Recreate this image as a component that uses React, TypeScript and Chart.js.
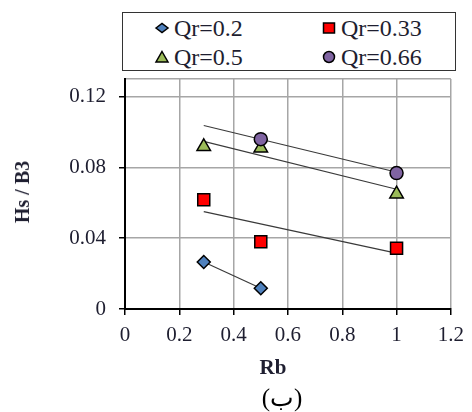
import React, { useEffect, useRef } from 'react';
import { Chart, registerables } from 'chart.js';
Chart.register(...registerables);

// ---- data ----
const seriesNames = ['Qr=0.2', 'Qr=0.33', 'Qr=0.5', 'Qr=0.66'];
const rbQ02 = [0.29, 0.5];
const hsQ02 = [0.0266, 0.0117];
const rbQ033 = [0.29, 0.5, 1.0];
const hsQ033 = [0.0617, 0.038, 0.0344];
const rbQ05 = [0.29, 0.5, 1.0];
const hsQ05 = [0.0918, 0.091, 0.065];
const rbQ066 = [0.5, 1.0];
const hsQ066 = [0.096, 0.0768];

// trend lines (end points as drawn)
const trendRbQ02 = [0.29, 0.5];
const trendHsQ02 = [0.0266, 0.0117];
const trendRbQ033 = [0.29, 0.99];
const trendHsQ033 = [0.055, 0.0319];
const trendRbQ05 = [0.29, 1.0];
const trendHsQ05 = [0.0947, 0.0677];
const trendRbQ066 = [0.29, 0.99];
const trendHsQ066 = [0.1037, 0.0777];

const xTickValues = [0, 0.2, 0.4, 0.6, 0.8, 1, 1.2];
const xTickLabels = ['0', '0.2', '0.4', '0.6', '0.8', '1', '1.2'];
const yTickValues = [0, 0.04, 0.08, 0.12];
const yTickLabels = ['0', '0.04', '0.08', '0.12'];
const xMin = 0;
const xMax = 1.2;
const yMin = 0;
const yMax = 0.13;

const xTitle = 'Rb';
const yTitle = 'Hs / B3';
const caption = '(ب)';

const colors = ['#4f81bd', '#ff0000', '#9bbb59', '#8064a2'];
const styles = ['rectRot', 'rect', 'triangle', 'circle'];
const radii = [6.5, 8.5, 7.8, 6.5];

const pts = (xs: number[], ys: number[]) => xs.map((x, i) => ({ x, y: ys[i] }));

const SERIF = '"Liberation Serif", "Times New Roman", serif';

function LegendMarker({ kind, color }: { kind: string; color: string }) {
  const s = 16;
  let shape: any = null;
  if (kind === 'rectRot') shape = <polygon points="2,8 8,3.5 14,8 8,12.5" />;
  else if (kind === 'rect') shape = <rect x="2.5" y="3" width="11" height="10" />;
  else if (kind === 'triangle') shape = <polygon points="8,2.5 14,13 2,13" />;
  else shape = <circle cx="8" cy="8" r="5.5" />;
  return (
    <svg width={s} height={s} viewBox="0 0 16 16" style={{ display: 'block' }}>
      <g fill={color} stroke="#000" strokeWidth={1.5}>{shape}</g>
    </svg>
  );
}

export default function App() {
  const ref = useRef<HTMLCanvasElement | null>(null);

  useEffect(() => {
    if (!ref.current) return;
    const pointSets = [pts(rbQ02, hsQ02), pts(rbQ033, hsQ033), pts(rbQ05, hsQ05), pts(rbQ066, hsQ066)];
    const trendSets = [
      pts(trendRbQ02, trendHsQ02),
      pts(trendRbQ033, trendHsQ033),
      pts(trendRbQ05, trendHsQ05),
      pts(trendRbQ066, trendHsQ066),
    ];
    const datasets: any[] = [];
    pointSets.forEach((d, i) => {
      datasets.push({
        label: seriesNames[i],
        data: d,
        showLine: false,
        pointStyle: styles[i],
        pointRadius: radii[i],
        pointBackgroundColor: colors[i],
        pointBorderColor: '#000',
        pointBorderWidth: 1.5,
        order: 4 - i,
      });
    });
    trendSets.forEach((d, i) => {
      datasets.push({
        label: 'trend ' + seriesNames[i],
        data: d,
        showLine: true,
        borderColor: '#3a3a3a',
        borderWidth: 1.2,
        pointRadius: 0,
        order: 10,
      });
    });

    const chart = new Chart(ref.current, {
      type: 'scatter',
      data: { datasets },
      options: {
        animation: false,
        responsive: false,
        events: [],
        layout: { padding: { top: 79, right: 17, left: 0, bottom: 0 } },
        plugins: { legend: { display: false }, tooltip: { enabled: false } },
        scales: {
          x: {
            type: 'linear',
            min: xMin,
            max: xMax,
            afterFit: (s: any) => { s.height = 412 - 309; },
            afterBuildTicks: (s: any) => { s.ticks = xTickValues.map((v) => ({ value: v })); },
            ticks: {
              callback: (v: any) => {
                const i = xTickValues.findIndex((t) => Math.abs(t - v) < 1e-9);
                return i >= 0 ? xTickLabels[i] : '';
              },
              font: { family: SERIF, size: 21 },
              color: '#1e1e30',
              padding: 8,
              maxRotation: 0,
            },
            grid: { color: '#a6a6a6', lineWidth: 1.5, tickColor: '#000', tickLength: 6 },
            border: { color: '#000', width: 2 },
          },
          y: {
            type: 'linear',
            min: yMin,
            max: yMax,
            afterFit: (s: any) => { s.width = 125; },
            afterBuildTicks: (s: any) => {
              s.ticks = [...yTickValues, yMax].map((v) => ({ value: v }));
            },
            ticks: {
              callback: (v: any) => {
                const i = yTickValues.findIndex((t) => Math.abs(t - v) < 1e-9);
                return i >= 0 ? yTickLabels[i] : '';
              },
              font: { family: SERIF, size: 21 },
              color: '#1e1e30',
              padding: 13,
            },
            grid: {
              color: '#a6a6a6',
              lineWidth: 1.5,
              tickLength: 6,
              tickColor: (c: any) => (c.tick && c.tick.value > 0.125 ? 'rgba(0,0,0,0)' : '#000'),
            },
            border: { color: '#000', width: 2 },
          },
        },
      },
    });
    return () => chart.destroy();
  }, []);

  const legendItems = [
    { i: 0, x: 154, y: 28 },
    { i: 1, x: 321, y: 28 },
    { i: 2, x: 154, y: 57 },
    { i: 3, x: 321, y: 57 },
  ];

  return (
    <div style={{ position: 'absolute', left: 0, top: 0, width: 472, height: 412, background: '#fff', fontFamily: SERIF }}>
      <canvas ref={ref} width={472} height={412} style={{ position: 'absolute', left: 0, top: 0, width: 472, height: 412 }} />
      <div
        style={{
          position: 'absolute',
          left: 122,
          top: 12,
          width: 334,
          height: 59,
          boxSizing: 'border-box',
          border: '1.5px solid #333',
          background: '#fff',
        }}
      />
      {legendItems.map((it) => (
        <div
          key={it.i}
          style={{
            position: 'absolute',
            left: it.x,
            top: it.y,
            transform: 'translateY(-50%)',
            display: 'flex',
            alignItems: 'center',
            gap: 4,
            fontSize: 24,
            lineHeight: '26px',
            color: '#1e1e30',
            whiteSpace: 'nowrap',
          }}
        >
          <LegendMarker kind={styles[it.i]} color={colors[it.i]} />
          <span>{seriesNames[it.i]}</span>
        </div>
      ))}
      <div
        style={{
          position: 'absolute',
          left: 273,
          top: 367,
          transform: 'translate(-50%, -50%)',
          fontWeight: 'bold',
          fontSize: 21,
          lineHeight: '22px',
          color: '#1e1e30',
          whiteSpace: 'nowrap',
        }}
      >
        {xTitle}
      </div>
      <div
        style={{
          position: 'absolute',
          left: 22,
          top: 192,
          transform: 'translate(-50%, -50%) rotate(-90deg)',
          fontWeight: 'bold',
          fontSize: 20,
          lineHeight: '20px',
          color: '#1e1e30',
          whiteSpace: 'nowrap',
        }}
      >
        {yTitle}
      </div>
      <div
        style={{
          position: 'absolute',
          left: 282,
          top: 398,
          transform: 'translate(-50%, -50%)',
          fontSize: 25,
          lineHeight: '26px',
          color: '#000',
          whiteSpace: 'nowrap',
        }}
      >
        {caption}
      </div>
    </div>
  );
}
